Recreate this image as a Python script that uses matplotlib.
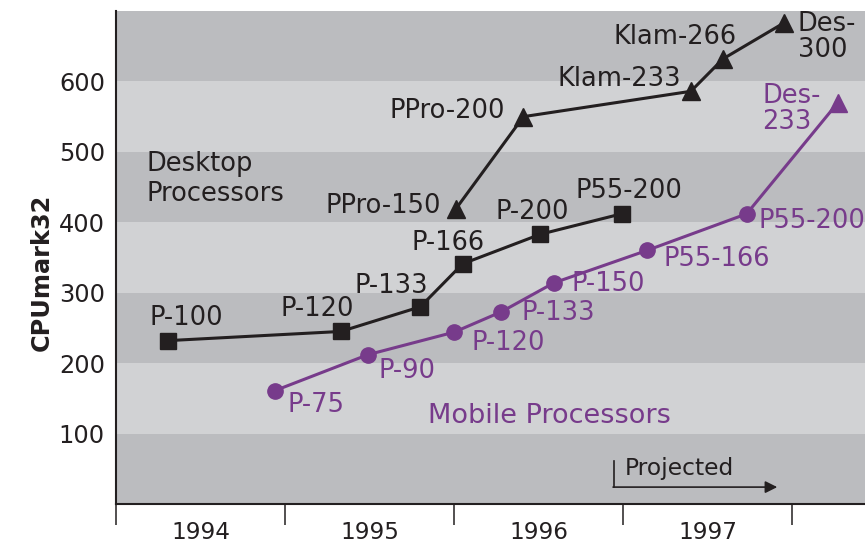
import matplotlib
matplotlib.use("Agg")
import matplotlib.pyplot as plt
from matplotlib.ticker import FixedLocator

# desktop Pentium line (squares)
desk_names = ["P-100", "P-120", "P-133", "P-166", "P-200", "P55-200"]
desk_x = [1994.31, 1995.33, 1995.80, 1996.05, 1996.51, 1996.99]
desk_y = [232, 245, 280, 341, 383, 412]

# desktop Pentium Pro / II line (triangles)
pro_names = ["PPro-150", "PPro-200", "Klam-233", "Klam-266", "Des-\n300"]
pro_x = [1996.01, 1996.41, 1997.40, 1997.59, 1997.95]
pro_y = [419, 550, 586, 632, 683]

# mobile line (circles, last one a triangle)
mob_names = ["P-75", "P-90", "P-120", "P-133", "P-150", "P55-166", "P55-200", "Des-\n233"]
mob_x = [1994.94, 1995.49, 1996.00, 1996.28, 1996.59, 1997.14, 1997.73, 1998.27]
mob_y = [161, 212, 244, 273, 314, 360, 412, 570]

years = ["1994", "1995", "1996", "1997"]
yticks = [100, 200, 300, 400, 500, 600]

BLACK = "#231f20"
PURPLE = "#773b8b"
DARK = "#bbbcbf"
LIGHT = "#d1d2d4"

plt.rcParams["font.family"] = "DejaVu Sans"

fig = plt.figure(figsize=(8.65, 5.54), dpi=100)
ax = fig.add_axes([116/865, 1-504/554, 749/865, 493/554])
ax.set_facecolor(LIGHT)
for lo in range(0, 700, 200):
    ax.axhspan(lo, lo + 100, color=DARK, lw=0, zorder=0)

ax.set_xlim(1994, 1998.43)
ax.set_ylim(0, 700)

# lines
ax.plot(desk_x, desk_y, color=BLACK, lw=2.2, marker="s", ms=11.5, zorder=3)
ax.plot(pro_x, pro_y, color=BLACK, lw=2.2, marker="^", ms=13.5, zorder=3)
ax.plot(mob_x[:-1], mob_y[:-1], color=PURPLE, lw=2.2, marker="o", ms=11, zorder=3)
ax.plot(mob_x[-2:], mob_y[-2:], color=PURPLE, lw=2.2, zorder=3)
ax.plot(mob_x[-1:], mob_y[-1:], color=PURPLE, marker="^", ms=13.5, ls="none", zorder=3)

fs = 18.5
desk_off = [(18, 23), (-24, 22), (-29, 21), (-15, 21), (-8, 22), (7, 23)]
for n, x, y, o in zip(desk_names, desk_x, desk_y, desk_off):
    ax.annotate(n, (x, y), xytext=o, textcoords="offset pixels",
                ha="center", va="center", fontsize=fs, color=BLACK)

pro_off = [(-15, 3, "right"), (-18, 6, "right"), (-10, 12, "right"),
           (-48, 22, "center"), (14, -14, "left")]
for n, x, y, o in zip(pro_names, pro_x, pro_y, pro_off):
    ax.annotate(n, (x, y), xytext=o[:2], textcoords="offset pixels",
                ha=o[2], va="center", fontsize=fs, color=BLACK,
                linespacing=1.0, multialignment="left")

mob_off = [(13, -14, "left"), (11, -16, "left"), (17, -11, "left"), (20, -1, "left"),
           (18, -1, "left"), (17, -9, "left"), (12, -7, "left"), (-17, -6, "right")]
for n, x, y, o in zip(mob_names, mob_x, mob_y, mob_off):
    ax.annotate(n, (x, y), xytext=o[:2], textcoords="offset pixels",
                ha=o[2], va="center", fontsize=fs, color=PURPLE,
                linespacing=1.0, multialignment="left")

ax.text(1994.18, 462, "Desktop\nProcessors", fontsize=fs, color=BLACK,
        ha="left", va="center", linespacing=1.2)
ax.text(1995.846, 125, "Mobile Processors", fontsize=19.5, color=PURPLE,
        ha="left", va="center")

# projected marker
ax.plot([1996.947, 1996.947], [61, 24], color=BLACK, lw=1.2, zorder=3)
ax.annotate("", xy=(1997.911, 24), xytext=(1996.94, 24),
            arrowprops=dict(arrowstyle="-|>", color=BLACK, lw=1.2,
                            mutation_scale=18, shrinkA=0, shrinkB=0), zorder=3)
ax.text(1997.01, 51, "Projected", fontsize=16.8, color=BLACK, ha="left", va="center")

# axes styling
for s in ["top", "right"]:
    ax.spines[s].set_visible(False)
ax.spines["left"].set_linewidth(1.5)
ax.spines["bottom"].set_linewidth(1.5)
ax.spines["left"].set_color(BLACK)
ax.spines["bottom"].set_color(BLACK)

ax.set_yticks(yticks)
ax.set_yticklabels([str(v) for v in yticks], fontsize=17.3, color=BLACK)
ax.tick_params(axis="y", length=0, pad=8)

ax.xaxis.set_major_locator(FixedLocator([1994, 1995, 1996, 1997, 1998]))
ax.xaxis.set_minor_locator(FixedLocator([1994.5, 1995.5, 1996.5, 1997.5]))
ax.set_xticklabels([])
ax.set_xticklabels(years, minor=True, fontsize=16.7, color=BLACK)
ax.tick_params(axis="x", which="major", length=15, width=1.1, color=BLACK)
ax.tick_params(axis="x", which="minor", length=0, pad=12)

ax.set_ylabel("CPUmark32", fontsize=17.3, fontweight="bold", color=BLACK)
ax.yaxis.set_label_coords(-0.083, 0.47)

fig.savefig("out.png", dpi=100)
